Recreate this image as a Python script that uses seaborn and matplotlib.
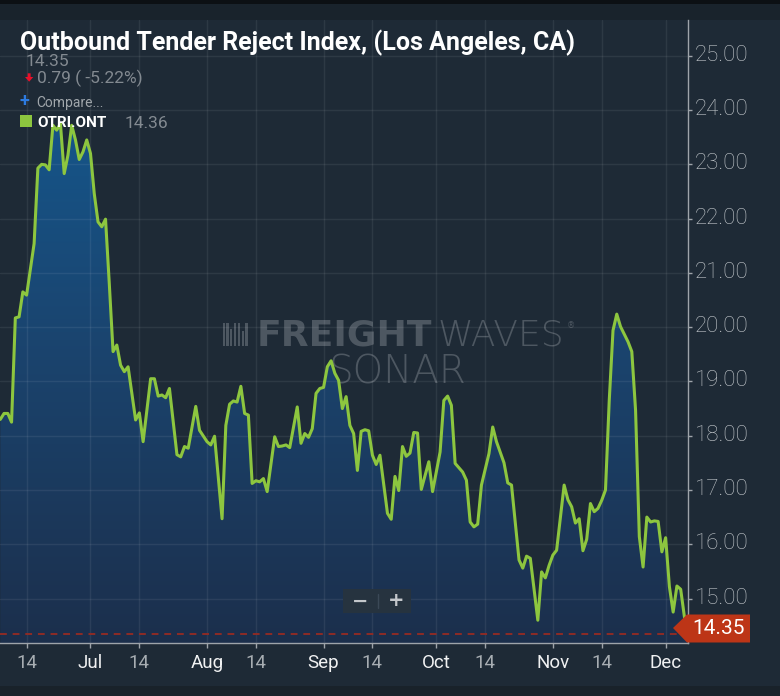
import numpy as np
import pandas as pd
import matplotlib
matplotlib.use("Agg")
import matplotlib.pyplot as plt
import matplotlib.dates as mdates
import matplotlib.transforms as mtransforms
from matplotlib.colors import LinearSegmentedColormap
from matplotlib.patches import Polygon, Rectangle
from matplotlib.lines import Line2D
import seaborn as sns

# ---------------- data ----------------
start_date = "2020-06-07"
day_offsets = [0, 1, 2, 3, 4, 5, 6, 7, 9, 10, 11, 12, 13, 14, 15, 16, 17, 18, 19, 20,
               21, 22, 23, 24, 25, 26, 27, 28, 29, 30, 31, 32, 33, 34, 36, 37, 38, 40, 41, 42,
               43, 44, 45, 47, 48, 49, 50, 52, 53, 55, 56, 57, 59, 60, 61, 62, 63, 64, 65, 66,
               67, 68, 69, 70, 71, 73, 74, 75, 76, 77, 79, 80, 81, 82, 83, 84, 85, 86, 87, 88,
               89, 90, 91, 92, 93, 94, 95, 96, 97, 98, 99, 100, 101, 103, 104, 105, 106, 107, 108, 109,
               110, 111, 112, 114, 115, 117, 118, 119, 120, 121, 123, 124, 125, 126, 127, 128, 130, 131, 132, 134,
               135, 136, 138, 139, 140, 141, 143, 144, 145, 146, 147, 148, 150, 151, 152, 153, 154, 155, 156, 157,
               158, 159, 160, 161, 162, 163, 164, 165, 167, 168, 169, 170, 171, 172, 173, 174, 175, 176, 177, 178,
               179, 180, 181, 182, 183]
otri_values = [18.30, 18.41, 18.41, 18.25, 20.17, 20.19, 20.65, 20.59, 21.54, 22.93, 23.00, 22.99, 22.90, 23.72, 23.63, 23.75, 22.83, 23.17, 23.72, 23.45,
               23.09, 23.23, 23.45, 23.20, 22.46, 21.94, 21.85, 21.99, 20.80, 19.55, 19.67, 19.30, 19.18, 19.27, 18.29, 18.42, 17.89, 19.05, 19.05, 18.73,
               18.75, 18.70, 18.87, 17.65, 17.61, 17.80, 17.77, 18.54, 18.10, 17.89, 17.83, 17.99, 16.47, 18.19, 18.58, 18.64, 18.62, 18.91, 18.41, 18.38,
               17.12, 17.17, 17.15, 17.21, 16.97, 17.98, 17.80, 17.81, 17.83, 17.78, 18.53, 17.86, 18.04, 17.97, 18.13, 18.78, 18.87, 18.89, 19.27, 19.38,
               19.15, 19.02, 18.50, 18.72, 18.19, 18.04, 17.36, 18.08, 18.11, 18.09, 17.64, 17.47, 17.64, 16.57, 16.46, 17.25, 16.99, 17.80, 17.62, 17.68,
               18.06, 18.05, 17.01, 17.52, 16.97, 17.70, 18.65, 18.73, 18.56, 17.49, 17.33, 17.18, 16.41, 16.32, 16.37, 17.09, 17.67, 18.16, 17.89, 17.50,
               17.13, 17.09, 15.71, 15.56, 15.78, 15.74, 14.60, 15.49, 15.38, 15.61, 15.80, 15.89, 17.09, 16.82, 16.69, 16.39, 16.47, 15.88, 16.09, 16.75,
               16.60, 16.66, 16.81, 17.00, 18.65, 19.94, 20.24, 20.01, 19.73, 19.55, 18.47, 16.14, 15.58, 16.50, 16.41, 16.43, 16.42, 15.86, 16.12, 15.22,
               14.75, 15.23, 15.17, 14.66, 14.35]

tick_dates = ["2020-06-14", "2020-07-01", "2020-07-14", "2020-08-01", "2020-08-14", "2020-09-01",
              "2020-09-14", "2020-10-01", "2020-10-14", "2020-11-01", "2020-11-14", "2020-12-01"]
tick_labels = ["14", "Jul", "14", "Aug", "14", "Sep", "14", "Oct", "14", "Nov", "14", "Dec"]
y_ticks = [15, 16, 17, 18, 19, 20, 21, 22, 23, 24, 25]

title_text = "Outbound Tender Reject Index, (Los Angeles, CA)"
series_name = "OTRI.ONT"
last_value = 14.35
legend_value = "14.36"
change_text = "0.79 ( -5.22%)"

# ---------------- style ----------------
sns.set_theme(style="dark")
plt.rcParams["font.family"] = ["Roboto", "DejaVu Sans"]

BG = "#1e2a36"
GREEN = "#8dc63f"
AXC = "#9ea4aa"
W, H = 780, 696


def fx(x):
    return x / W


def fy(y):
    return 1 - y / H


df = pd.DataFrame({
    "date": pd.Timestamp(start_date) + pd.to_timedelta(day_offsets, unit="D"),
    "value": otri_values,
})

fig = plt.figure(figsize=(7.8, 6.96), dpi=100)
fig.patch.set_facecolor(BG)

# header / footer strips
fig.add_artist(Rectangle((0, fy(20)), 1, 20 / H, transform=fig.transFigure,
                         facecolor="#19232c", edgecolor="none", zorder=-2))
fig.add_artist(Rectangle((0, fy(4)), 1, 4 / H, transform=fig.transFigure,
                         facecolor="#0c1014", edgecolor="none", zorder=-1))
fig.add_artist(Rectangle((0, 0), 1, 10 / H, transform=fig.transFigure,
                         facecolor="#19222a", edgecolor="none", zorder=-2))

ax = fig.add_axes([0, fy(643), fx(688.3), fy(20) - fy(643)])
ax.set_facecolor(BG)

ymin, ymax = 14.18, 25.66
x_left = pd.Timestamp(start_date) - pd.Timedelta(hours=1.8)
x_right = pd.Timestamp(start_date) + pd.Timedelta(days=183.03)

sns.lineplot(x=df["date"], y=df["value"], ax=ax, color=GREEN, linewidth=2.2, zorder=4)

# gradient area fill under the line
x0n, x1n = mdates.date2num(x_left), mdates.date2num(x_right)
cmap = LinearSegmentedColormap.from_list("otri", ["#1c2f4c", "#1a4570", "#135d96"])
grad = np.linspace(0, 1, 256).reshape(-1, 1)
im = ax.imshow(grad, extent=[x0n, x1n, ymin, ymax], origin="lower", aspect="auto",
               cmap=cmap, zorder=1, interpolation="bilinear")
fill = ax.fill_between(df["date"], df["value"], ymin, facecolor="none", edgecolor="none")
im.set_clip_path(fill.get_paths()[0], transform=ax.transData)

ax.set_xlim(x_left, x_right)
ax.set_ylim(ymin, ymax)

# grid
ax.set_axisbelow("line")
ax.grid(True, color="#ffffff", alpha=0.07, linewidth=1)

# spines
for s in ["left", "top"]:
    ax.spines[s].set_visible(False)
for s in ["right", "bottom"]:
    ax.spines[s].set_color(AXC)
    ax.spines[s].set_linewidth(1)

# y axis on the right
ax.yaxis.tick_right()
ax.set_yticks(y_ticks)
ax.set_yticklabels([f"{v:.2f}" for v in y_ticks])
ax.tick_params(axis="y", direction="out", length=2.6, width=1, color=AXC, pad=2.4,
               labelsize=16, labelcolor="#c3c8cc", left=False, right=True)
up = mtransforms.ScaledTranslation(0, 3.0 / 100, fig.dpi_scale_trans)
for lbl in ax.get_yticklabels():
    lbl.set_fontfamily(["Roboto", "DejaVu Sans"])
    lbl.set_fontweight("light")
    lbl.set_transform(lbl.get_transform() + up)

# x axis
ax.set_xticks(pd.to_datetime(tick_dates))
ax.set_xticklabels(tick_labels)
ax.tick_params(axis="x", direction="out", length=3.6, width=1, color=AXC, pad=4.5,
               labelsize=13.5, bottom=True)
for lbl, t in zip(ax.get_xticklabels(), tick_labels):
    lbl.set_color("#f0f1f2" if t != "14" else "#a7adb2")
ax.set_xlabel("")
ax.set_ylabel("")

# last value dashed line
ax.axhline(last_value, color="#8e2b25", lw=1.4, ls=(0, (3.5, 3)), zorder=3)

# watermark (behind the area fill)
wm = "#4d5761"
t_fr = ax.text(fx(432), fy(346), "FREIGHT", transform=fig.transFigure, color=wm, fontsize=26,
               fontweight="bold", family=["DejaVu Sans"], ha="right", va="baseline", zorder=0.5)
t_wv = ax.text(fx(437), fy(346), "WAVES", transform=fig.transFigure, color=wm, fontsize=26,
               fontweight="ultralight", family=["DejaVu Sans"], ha="left", va="baseline", zorder=0.5)
t_so = ax.text(fx(397), fy(383), "SONAR", transform=fig.transFigure, color=wm, fontsize=28,
               fontweight="ultralight", family=["DejaVu Sans"], ha="center", va="baseline", zorder=0.5)
fig.canvas.draw()
bb_fr = t_fr.get_window_extent()
bb_wv = t_wv.get_window_extent()
ax.text(fx(bb_wv.x1 + 3), fy(326), "®", transform=fig.transFigure, color=wm, fontsize=6,
        family=["DejaVu Sans"], ha="left", va="center", zorder=0.5)
icon_x = bb_fr.x0 - 34
for i, hgt in enumerate([23, 23, 17, 23, 23, 15, 23]):
    ax.add_patch(Rectangle((fx(icon_x + i * 3.8), fy(346)), 2.2 / W, hgt / H,
                           transform=fig.transFigure, facecolor=wm, edgecolor="none", zorder=0.5))

# header texts
fig.text(fx(26), fy(65.5), "14.35", color="#838a91", fontsize=12.5, va="baseline", zorder=3)
fig.add_artist(Polygon([(fx(27.7), fy(73.3)), (fx(30.6), fy(73.3)), (fx(30.6), fy(77)),
                        (fx(33.3), fy(77)), (fx(29.15), fy(81.7)), (fx(25), fy(77)),
                        (fx(27.7), fy(77))], closed=True, transform=fig.transFigure,
                       facecolor="#e8102a", edgecolor="none", zorder=3))
fig.text(fx(37), fy(82.7), change_text, color="#838a91", fontsize=12.5, va="baseline", zorder=3)
fig.text(fx(24.5), fy(101), "+", color="#2d7be0", fontsize=13, fontweight="bold",
         ha="center", va="center", zorder=3)
fig.text(fx(36), fy(106.5), "Compare...", color="#a0a6ab", fontsize=10, va="baseline", zorder=3)
fig.add_artist(Rectangle((fx(20), fy(126.7)), 11.7 / W, 11.7 / H, transform=fig.transFigure,
                         facecolor=GREEN, edgecolor="none", zorder=3))
fig.text(fx(37), fy(126.7), series_name, color="white", fontsize=11, fontweight="bold",
         va="baseline", zorder=3)
fig.text(fx(125), fy(127.5), legend_value, color="#838a91", fontsize=12.5, va="baseline", zorder=3)
fig.text(fx(20), fy(50.5), title_text, color="white", fontsize=18, fontweight="bold",
         family=["Liberation Sans Narrow", "Roboto", "DejaVu Sans"], va="baseline", zorder=4)

# price tag
tag = Polygon([(fx(673), fy(628)), (fx(687), fy(614.5)), (fx(750), fy(614.5)),
               (fx(750), fy(642.5)), (fx(687), fy(642.5))], closed=True,
              transform=fig.transFigure, facecolor="#bd3517", edgecolor="none", zorder=5)
fig.add_artist(tag)
fig.text(fx(719), fy(633.5), f"{last_value:.2f}", color="white", fontsize=15,
         ha="center", va="baseline", zorder=6)

# zoom control box
fig.add_artist(Rectangle((fx(343), fy(613)), 68 / W, 24 / H, transform=fig.transFigure,
                         facecolor="#26333f", edgecolor="none", zorder=5))
fig.add_artist(Line2D([fx(378), fx(378)], [fy(594), fy(608)], transform=fig.transFigure,
                      color="#3b4957", lw=1, zorder=6))
fig.text(fx(360), fy(601), "−", color="#c3c7cb", fontsize=14, fontweight="bold",
         family=["DejaVu Sans"], ha="center", va="center", zorder=6)
fig.text(fx(396), fy(601), "+", color="#c3c7cb", fontsize=14, fontweight="bold",
         family=["DejaVu Sans"], ha="center", va="center", zorder=6)

fig.savefig("out.png", dpi=100, facecolor=BG)
